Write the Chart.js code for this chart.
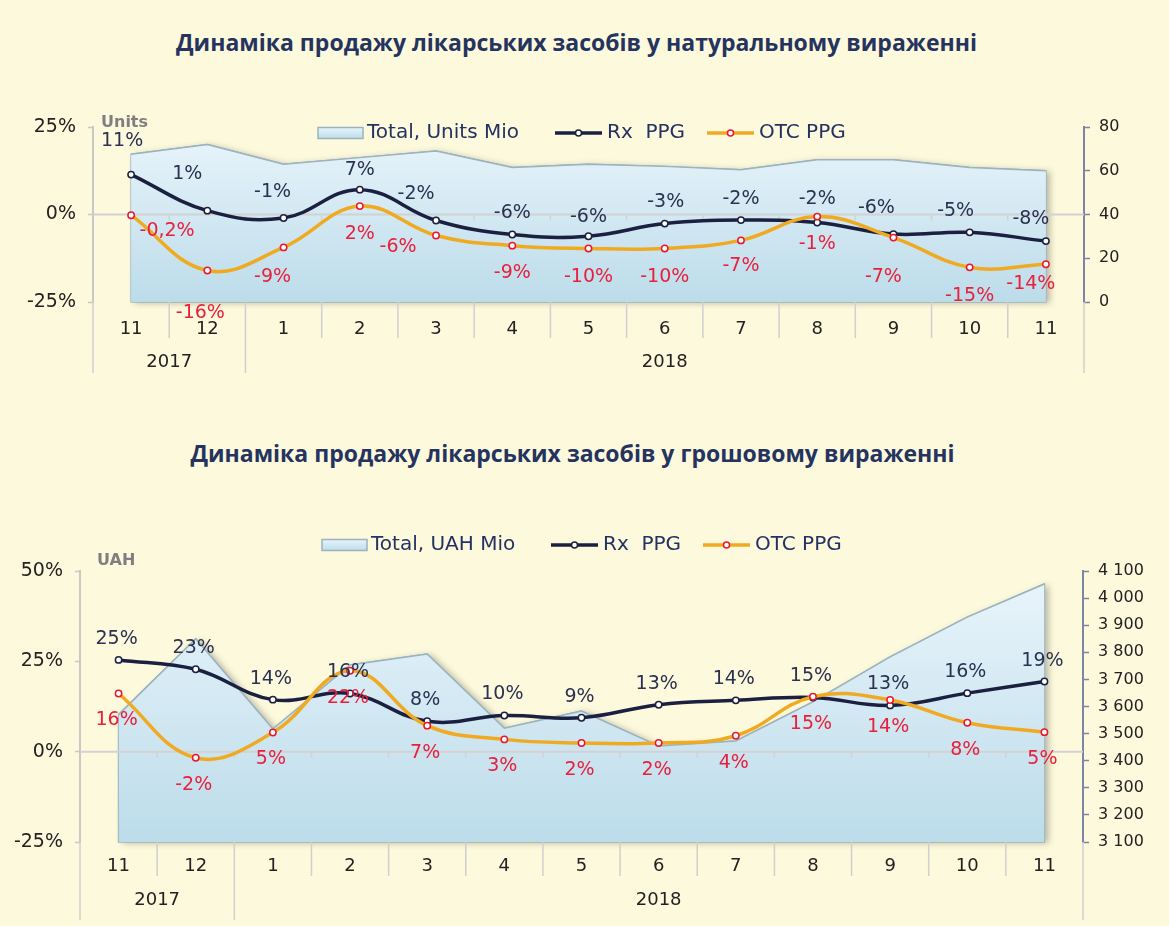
<!DOCTYPE html>
<html>
<head>
<meta charset="utf-8">
<script src="https://cdn.jsdelivr.net/npm/chart.js@4.4.0/dist/chart.umd.min.js"></script>
<style>
  html, body { margin: 0; padding: 0; background: #fdf9dc; }
  body { width: 1169px; height: 926px; position: relative; overflow: hidden; }
  .title { position: absolute; width: 1169px; text-align: center; line-height: 28px;
           font-family: "Open Sans", sans-serif; font-weight: 700; font-size: 23px; color: #25345f; }
  .wrap { position: absolute; left: 0; }
</style>
</head>
<body>
<div class="title" style="top:28px; left:-8px">Динаміка продажу лікарських засобів у натуральному вираженні</div>
<div class="wrap" style="top:100px"><canvas id="units" width="1169" height="280"></canvas></div>
<div class="title" style="top:439px; left:-12px">Динаміка продажу лікарських засобів у грошовому вираженні</div>
<div class="wrap" style="top:520px"><canvas id="uah" width="1169" height="400"></canvas></div>

<script>
const months = ["11", "12", "1", "2", "3", "4", "5", "6", "7", "8", "9", "10", "11"];
const years = ["2017", "2018"];
const yearSpans = [2, 11];

// natural terms: total units (mio) and growth %
const unitsTotal = [67.5, 72, 63, 66, 69, 61.5, 63, 62, 60.5, 65, 65, 61.5, 60];
const unitsRx = [11.4, 1.1, -1.0, 7.1, -1.7, -5.7, -6.2, -2.6, -1.6, -2.3, -5.6, -5.1, -7.6];
const unitsOtc = [-0.2, -16, -9.4, 2.4, -6, -8.9, -9.7, -9.7, -7.4, -0.6, -6.6, -15.1, -14.2];

// money terms: total UAH (mio) and growth %
const uahTotal = [3570, 3850, 3517, 3753, 3794, 3520, 3583, 3454, 3473, 3617, 3783, 3930, 4052];
const uahRx = [25.4, 22.8, 14.4, 16.1, 8.4, 10, 9.4, 13, 14.2, 15, 12.8, 16.2, 19.4];
const uahOtc = [16.1, -1.7, 5.3, 22.4, 7.2, 3.4, 2.4, 2.4, 4.4, 15.2, 14.3, 8, 5.4];

// label placement (pixel offsets from the point)
const unitsRxOffsets = [[-9,-34],[-20,-37],[-11,-26],[0,-20],[-20,-26],[0,-21],[0,-19],[1,-22],[0,-21],[0,-23],[-17,-26],[-14,-21],[-15,-22]];
const unitsOtcOffsets = [[36,16],[-7,43],[-11,30],[0,28],[-38,12],[0,27],[0,29],[0,29],[0,26],[0,27],[-10,39],[0,29],[-15,20]];
const uahRxOffsets = months.map(() => [-2, -21]);
const uahOtcOffsets = months.map(() => [-2, 27]);

const NAVY = "#1b2040";
const ORANGE = "#f0aa22";
const RED = "#e8182e";
const AREA_LINE = "#9bb3bf";
const GREY = "#cfcfcf";
const SLATE = "#7d84a4";

Chart.defaults.font.family = "DejaVu Sans";

function pct(v) {
  if (Math.abs(v) < 0.5) return v.toFixed(1).replace(".", ",") + "%";
  return Math.round(v) + "%";
}

function thousands(v) {
  return String(v).replace(/\B(?=(\d{3})+(?!\d))/g, " ");
}

function areaGradient(ctx, top, bottom) {
  const g = ctx.createLinearGradient(0, top, 0, bottom);
  g.addColorStop(0, "#eaf5fb");
  g.addColorStop(1, "#bcdcea");
  return g;
}

function bounds(chart) {
  const x = chart.scales.x;
  const n = months.length;
  const first = x.getPixelForValue(0);
  const step = (x.getPixelForValue(n - 1) - first) / (n - 1);
  const out = [];
  for (let i = 0; i <= n; i++) out.push(first - step / 2 + i * step);
  return out;
}

function makeOverlay(cfg) {
  return {
    id: "overlay",
    beforeDatasetsDraw(chart) {
      // soft shadow behind the total area
      const { ctx, chartArea: ca } = chart;
      const pts = chart.getDatasetMeta(0).data;
      ctx.save();
      ctx.shadowColor = "rgba(60,60,60,0.35)";
      ctx.shadowBlur = 6;
      ctx.shadowOffsetX = 4;
      ctx.shadowOffsetY = 1;
      ctx.fillStyle = "#c6e0ec";
      ctx.beginPath();
      pts.forEach((p, i) => i ? ctx.lineTo(p.x, p.y) : ctx.moveTo(p.x, p.y));
      ctx.lineTo(pts[pts.length - 1].x, ca.bottom);
      ctx.lineTo(pts[0].x, ca.bottom);
      ctx.closePath();
      ctx.fill();
      ctx.shadowColor = "transparent";
      ctx.strokeStyle = AREA_LINE;
      ctx.lineWidth = 1.5;
      ctx.stroke();
      ctx.restore();
    },
    afterDatasetDraw(chart, args) {
      if (args.index !== 0) return;
      const { ctx, chartArea: ca } = chart;
      const zy = chart.scales.y.getPixelForValue(0);
      ctx.save();
      ctx.strokeStyle = "#d2d2d2";
      ctx.lineWidth = 2;
      ctx.beginPath();
      ctx.moveTo(ca.left, zy);
      ctx.lineTo(ca.right, zy);
      ctx.stroke();
      ctx.lineWidth = 1.5;
      bounds(chart).slice(1, -1).forEach(bx => {
        ctx.beginPath();
        ctx.moveTo(bx, zy);
        ctx.lineTo(bx, zy + 6);
        ctx.stroke();
      });
      ctx.restore();
    },
    afterDraw(chart) {
      const { ctx, chartArea: ca } = chart;
      const b = bounds(chart);
      ctx.save();

      // category separators and year groups
      const groupEdges = [0];
      yearSpans.forEach(s => groupEdges.push(groupEdges[groupEdges.length - 1] + s));
      ctx.strokeStyle = GREY;
      ctx.lineWidth = 1.5;
      b.forEach((bx, i) => {
        const drop = groupEdges.includes(i) ? cfg.groupDrop : cfg.tickDrop;
        const xx = i === 0 ? ca.left : (i === b.length - 1 ? ca.right : bx);
        ctx.beginPath();
        ctx.moveTo(xx, ca.bottom);
        ctx.lineTo(xx, ca.bottom + drop);
        ctx.stroke();
      });
      ctx.fillStyle = "#222";
      ctx.font = "18px 'DejaVu Sans'";
      ctx.textAlign = "center";
      ctx.textBaseline = "middle";
      years.forEach((yr, g) => {
        const l = groupEdges[g] === 0 ? ca.left : b[groupEdges[g]];
        const r = groupEdges[g + 1] === months.length ? ca.right : b[groupEdges[g + 1]];
        ctx.fillText(yr, (l + r) / 2, ca.bottom + cfg.yearDy);
      });

      // value labels
      ctx.font = "19px 'DejaVu Sans'";
      [[1, cfg.rx, cfg.rxOffsets, "#2b3150"], [2, cfg.otc, cfg.otcOffsets, "#e8203c"]].forEach(([di, vals, offs, col]) => {
        const meta = chart.getDatasetMeta(di);
        ctx.fillStyle = col;
        meta.data.forEach((pt, i) => {
          ctx.fillText(pct(vals[i]), pt.x + offs[i][0], pt.y + offs[i][1]);
        });
      });

      // unit caption
      ctx.font = "bold 16px 'DejaVu Sans'";
      ctx.fillStyle = "#7f7f7f";
      ctx.textAlign = "left";
      ctx.fillText(cfg.unit, cfg.unitX, cfg.unitY);

      // legend
      const ly = cfg.legendY;
      const [x0, x1, x2] = cfg.legendX;
      ctx.font = "20px 'DejaVu Sans'";
      ctx.fillStyle = areaGradient(ctx, ly - 6, ly + 6);
      ctx.fillRect(x0, ly - 5.5, 45, 11);
      ctx.strokeStyle = AREA_LINE;
      ctx.lineWidth = 1.5;
      ctx.strokeRect(x0, ly - 5.5, 45, 11);
      ctx.fillStyle = "#243263";
      ctx.fillText(cfg.totalLabel, x0 + 49, ly);
      [[x1, NAVY, NAVY, "Rx  PPG"], [x2, ORANGE, RED, "OTC PPG"]].forEach(([lx, lc, mc, txt]) => {
        ctx.strokeStyle = lc;
        ctx.lineWidth = 3.5;
        ctx.beginPath();
        ctx.moveTo(lx, ly);
        ctx.lineTo(lx + 47, ly);
        ctx.stroke();
        ctx.beginPath();
        ctx.arc(lx + 23.5, ly, 3, 0, Math.PI * 2);
        ctx.fillStyle = "#fff";
        ctx.fill();
        ctx.strokeStyle = mc;
        ctx.lineWidth = 1.5;
        ctx.stroke();
        ctx.fillStyle = "#243263";
        ctx.fillText(txt, lx + 52, ly);
      });
      ctx.restore();
    }
  };
}

function makeChart(id, cfg) {
  const el = document.getElementById(id);
  return new Chart(el, {
    type: "line",
    data: {
      labels: months,
      datasets: [
        {
          label: cfg.totalLabel,
          data: cfg.total,
          yAxisID: "y2",
          fill: "start",
          backgroundColor: (c) => {
            const ca = c.chart.chartArea;
            if (!ca) return "#d3e9f2";
            return areaGradient(c.chart.ctx, ca.top, ca.bottom);
          },
          borderColor: AREA_LINE,
          borderWidth: 1.5,
          pointRadius: 0,
          tension: 0,
          order: 2
        },
        {
          label: "Rx PPG",
          data: cfg.rx,
          yAxisID: "y",
          borderColor: NAVY,
          borderWidth: 3.5,
          tension: 0.4,
          pointRadius: 3.2,
          pointBackgroundColor: "#fff",
          pointBorderColor: NAVY,
          pointBorderWidth: 1.5,
          order: 1
        },
        {
          label: "OTC PPG",
          data: cfg.otc,
          yAxisID: "y",
          borderColor: ORANGE,
          borderWidth: 3.5,
          tension: 0.4,
          pointRadius: 3.2,
          pointBackgroundColor: "#fff",
          pointBorderColor: RED,
          pointBorderWidth: 1.5,
          order: 0
        }
      ]
    },
    options: {
      responsive: false,
      animation: false,
      layout: { padding: { top: cfg.padTop, left: 0, right: 0, bottom: 0 } },
      plugins: { legend: { display: false }, tooltip: { enabled: false } },
      scales: {
        x: {
          offset: true,
          afterFit: (s) => { s.height = cfg.xHeight; },
          grid: { display: false, drawTicks: false },
          border: { display: false },
          ticks: { padding: cfg.tickPad, color: "#222", font: { size: 18 }, autoSkip: false, maxRotation: 0 }
        },
        y: {
          position: "left",
          min: cfg.yMin,
          max: cfg.yMax,
          afterFit: (s) => { s.width = cfg.yWidth; },
          grid: { color: "transparent", drawTicks: true, tickLength: 5, tickColor: "#c8c8c8", tickWidth: 1.5 },
          border: { color: "#c8c8c8", width: 2 },
          ticks: { stepSize: cfg.yStep, padding: 12, color: "#222", font: { size: 19 }, callback: (v) => v + "%" }
        },
        y2: {
          position: "right",
          min: cfg.y2Min,
          max: cfg.y2Max,
          afterFit: (s) => { s.width = cfg.y2Width; },
          grid: { drawOnChartArea: false, drawTicks: true, tickLength: 6, tickColor: SLATE, tickWidth: 1.5 },
          border: { color: SLATE, width: 2 },
          ticks: { stepSize: cfg.y2Step, padding: 9, color: "#222", font: { size: 16 }, callback: (v) => thousands(v) }
        }
      }
    },
    plugins: [makeOverlay(cfg)]
  });
}

makeChart("units", {
  total: unitsTotal, rx: unitsRx, otc: unitsOtc,
  rxOffsets: unitsRxOffsets, otcOffsets: unitsOtcOffsets,
  totalLabel: "Total, Units Mio",
  unit: "Units", unitX: 101, unitY: 23,
  legendY: 33, legendX: [318, 555, 707],
  yMin: -25, yMax: 25, yStep: 25,
  y2Min: 0, y2Max: 80, y2Step: 20,
  yWidth: 93, y2Width: 85,
  padTop: 27, xHeight: 78, tickPad: 17,
  tickDrop: 36, groupDrop: 71, yearDy: 60
});

makeChart("uah", {
  total: uahTotal, rx: uahRx, otc: uahOtc,
  rxOffsets: uahRxOffsets, otcOffsets: uahOtcOffsets,
  totalLabel: "Total, UAH Mio",
  unit: "UAH", unitX: 97, unitY: 41,
  legendY: 25, legendX: [322, 551, 703],
  yMin: -25, yMax: 50, yStep: 25,
  y2Min: 3100, y2Max: 4100, y2Step: 100,
  yWidth: 80, y2Width: 86,
  padTop: 51, xHeight: 78, tickPad: 14,
  tickDrop: 34, groupDrop: 78, yearDy: 58
});
</script>
</body>
</html>
